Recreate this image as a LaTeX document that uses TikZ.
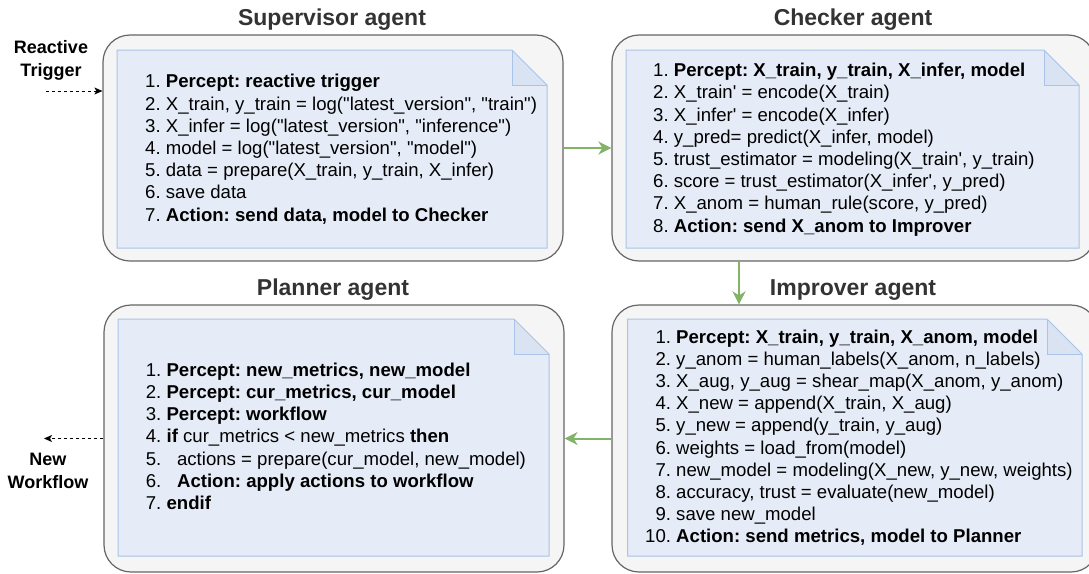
\documentclass[tikz,border=0pt]{standalone}
\usepackage{fontspec}
\newfontfamily\arial{Liberation Sans}
\usetikzlibrary{arrows.meta}
\frenchspacing
\definecolor{boxfill}{HTML}{F5F5F5}
\definecolor{boxdraw}{HTML}{666666}
\definecolor{notefill}{HTML}{E6ECF7}
\definecolor{foldfill}{HTML}{DAE3F1}
\definecolor{notedraw}{HTML}{A9C4E8}
\definecolor{flowgreen}{HTML}{82B366}
\definecolor{titlegray}{HTML}{333333}
\newcommand\drawnote[4]{%
  \fill[notefill] (#1,#2) -- ({#3-35},#2) -- (#3,{#2+35}) -- (#3,#4) -- (#1,#4) -- cycle;
  \fill[foldfill] ({#3-35},#2) -- ({#3-35},{#2+35}) -- (#3,{#2+35}) -- cycle;
  \draw[notedraw, line width=1pt] ({#3-35},#2) -- ({#3-35},{#2+35}) -- (#3,{#2+35});
  \draw[notedraw, line width=1pt] (#1,#2) -- ({#3-35},#2) -- (#3,{#2+35}) -- (#3,#4) -- (#1,#4) -- cycle;
}
\tikzset{
  agentbox/.style={draw=boxdraw, fill=boxfill, line width=1.2pt, rounded corners=27pt, inner sep=0pt},
  codetext/.style={anchor=west, inner sep=0pt, font=\arial\frenchspacing\fontsize{18.6}{22.2}\selectfont},
  agenttitle/.style={anchor=base, inner sep=0pt, text=titlegray, font=\arial\bfseries\fontsize{23}{27}\selectfont},
  sidelabel/.style={inner sep=0pt, align=center, font=\arial\bfseries\fontsize{18}{22.8}\selectfont},
  flow/.style={draw=flowgreen, line width=2pt, -{Stealth[length=13pt, width=13pt, inset=4pt]}},
  dasharrow/.style={draw=black, line width=1pt, dash pattern=on 3pt off 3pt, -{Stealth[length=8pt, width=7pt, inset=2pt]}}
}
\begin{document}
\begin{tikzpicture}[x=1pt, y=-1pt]
\useasboundingbox (0,0) rectangle (1089,573);

% agent boxes
\node[agentbox, minimum width=460pt, minimum height=226pt] (sup) at (333,148) {};
\node[agentbox, minimum width=483pt, minimum height=226pt] (chk) at (853.5,148) {};
\node[agentbox, minimum width=486pt, minimum height=267pt] (imp) at (855,438.5) {};
\node[agentbox, minimum width=460pt, minimum height=267pt] (pla) at (334,438.5) {};

% notes
\drawnote{117}{50}{547}{248}
\drawnote{626}{50}{1079}{248}
\drawnote{627.5}{319}{1082}{556}
\drawnote{118}{319}{549}{556}

% titles
\node[agenttitle] (suptitle) at (332,25) {Supervisor agent};
\node[agenttitle] (chktitle) at (853,25) {Checker agent};
\node[agenttitle] (platitle) at (333,295) {Planner agent};
\node[agenttitle] (imptitle) at (853,295) {Improver agent};

% texts
\node[codetext] (suptext) at (145,150) {\begin{tabular}{@{}r@{\ }l@{}}
1. & \textbf{Percept: reactive trigger}\\
2. & X\_train, y\_train = log("latest\_version", "train")\\
3. & X\_infer = log("latest\_version", "inference")\\
4. & model = log("latest\_version", "model")\\
5. & data = prepare(X\_train, y\_train, X\_infer)\\
6. & save data\\
7. & \textbf{Action: send data, model to Checker}
\end{tabular}};

\node[codetext] (chktext) at (653,150) {\begin{tabular}{@{}r@{\ }l@{}}
1. & \textbf{Percept: X\_train, y\_train, X\_infer, model}\\
2. & X\_train' = encode(X\_train)\\
3. & X\_infer' = encode(X\_infer)\\
4. & y\_pred= predict(X\_infer, model)\\
5. & trust\_estimator = modeling(X\_train', y\_train)\\
6. & score = trust\_estimator(X\_infer', y\_pred)\\
7. & X\_anom = human\_rule(score, y\_pred)\\
8. & \textbf{Action: send X\_anom to Improver}
\end{tabular}};

\node[codetext] (imptext) at (645,438.5) {\begin{tabular}{@{}r@{\ }l@{}}
1. & \textbf{Percept: X\_train, y\_train, X\_anom, model}\\
2. & y\_anom = human\_labels(X\_anom, n\_labels)\\
3. & X\_aug, y\_aug = shear\_map(X\_anom, y\_anom)\\
4. & X\_new = append(X\_train, X\_aug)\\
5. & y\_new = append(y\_train, y\_aug)\\
6. & weights = load\_from(model)\\
7. & new\_model = modeling(X\_new, y\_new, weights)\\
8. & accuracy, trust = evaluate(new\_model)\\
9. & save new\_model\\
10. & \textbf{Action: send metrics, model to Planner}
\end{tabular}};

\node[codetext] (platext) at (145.7,438.5) {\begin{tabular}{@{}r@{\ }l@{}}
1. & \textbf{Percept: new\_metrics, new\_model}\\
2. & \textbf{Percept: cur\_metrics, cur\_model}\\
3. & \textbf{Percept: workflow}\\
4. & \textbf{if} cur\_metrics < new\_metrics \textbf{then}\\
5. & \hspace{10.5pt}actions = prepare(cur\_model, new\_model)\\
6. & \hspace{10.5pt}\textbf{Action: apply actions to workflow}\\
7. & \textbf{endif}
\end{tabular}};

% side labels
\node[sidelabel] (trig) at (51,60) {Reactive\\Trigger};
\node[sidelabel] (wf) at (48,470.5) {New\\Workflow};
\coordinate (trigstart) at (46,91);
\coordinate (wfend) at (44,438.5);
\coordinate (downx) at (739,0);

% connectors
\draw[dasharrow] (trigstart) -- (trigstart -| sup.west);
\draw[dasharrow] (pla.west) -- (wfend);
\draw[flow] (sup.east) -- (chk.west);
\draw[flow] (chk.south -| downx) -- (imp.north -| downx);
\draw[flow] (imp.west) -- (pla.east);
\end{tikzpicture}
\end{document}
